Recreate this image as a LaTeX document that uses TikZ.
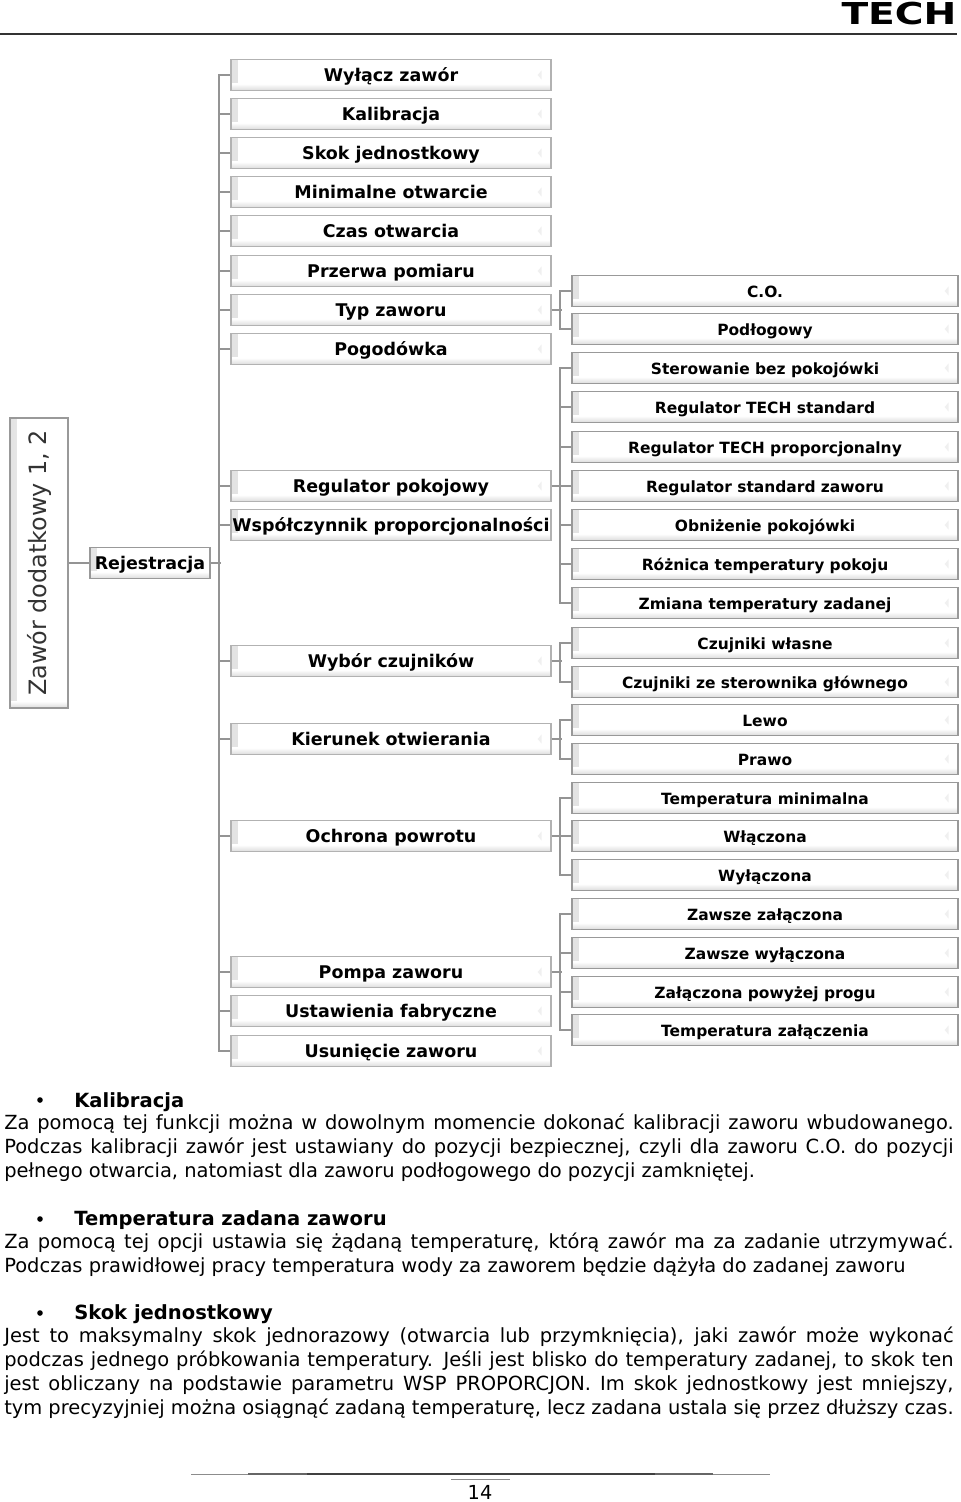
\documentclass[tikz,border=0pt]{standalone}
\usepackage{fontspec}
\setmainfont{DejaVu Sans}
\usetikzlibrary{positioning,calc}

\newcommand{\bevelshade}{%
    \shade[left color=black!11, right color=white]
        (path picture bounding box.south west) rectangle ([xshift=5pt]path picture bounding box.north west);
    \shade[top color=white, bottom color=black!14]
        ([yshift=5pt]path picture bounding box.south west) rectangle (path picture bounding box.south east);
}
\newcommand{\bevelmark}{%
    \fill[black!6] ([xshift=-7pt,yshift=-3.5pt]path picture bounding box.east) -- ++(0,7pt) -- ++(-3pt,-3.5pt) -- cycle;
}

\begin{document}
\begin{tikzpicture}[
    x=0.75pt, y=-0.75pt,
    line/.style={draw=black!42, line width=1.8pt},
    bevel/.style={
        draw=black!40, line width=1.1pt, fill=white,
        align=center, inner sep=0pt,
        path picture={\bevelshade}
    },
    lbox/.style={
        bevel, draw=black!30,
        path picture={\bevelshade\bevelmark},
        minimum width=240pt, minimum height=23.25pt,
        text height=12pt, text depth=2pt,
        font=\fontsize{13.1}{15}\selectfont\bfseries
    },
    rbox/.style={
        bevel,
        path picture={\bevelshade\bevelmark},
        minimum width=289.5pt, minimum height=23.25pt,
        text height=11.5pt, text depth=2pt,
        font=\fontsize{11.6}{15}\selectfont\bfseries
    },
    body/.style={
        anchor=north west, inner sep=0pt, text width=712pt, align=justify,
        font=\fontsize{14.6}{18}\selectfont
    },
    head/.style={
        anchor=west, inner sep=0pt,
        font=\fontsize{14.65}{18}\selectfont\bfseries
    },
    dot/.style={circle, fill=black, inner sep=0pt, minimum size=4.2pt}
]
\useasboundingbox (0,0) rectangle (960,1502);

% Header
\node[anchor=center, inner sep=0pt, font=\fontsize{26}{26}\selectfont\bfseries, xscale=1.13, yscale=0.87] (logo) at (899,14) {TECH};
\coordinate (hl) at (0,34);
\coordinate (hr) at (957,34);
\draw[black!80, line width=1.2pt] (hl) -- (hr);

% Root and registration
\node[bevel, minimum width=43.5pt, minimum height=217.5pt] (root) at (39,563) {};
\node[rotate=90, inner sep=0pt, text=black!80, font=\fontsize{17.9}{20}\selectfont] (rootlabel) at (root.center) {Zawór dodatkowy 1, 2};
\node[bevel, minimum width=90pt, minimum height=23.25pt, text height=12pt, text depth=2pt, font=\fontsize{13.1}{15}\selectfont\bfseries] (rej) at (150,563) {Rejestracja};

% Left column
\node[lbox] (wylacz) at (391,75) {Wyłącz zawór};
\node[lbox] (kalib) at (391,114) {Kalibracja};
\node[lbox] (skok) at (391,153) {Skok jednostkowy};
\node[lbox] (minotw) at (391,192) {Minimalne otwarcie};
\node[lbox] (czas) at (391,231) {Czas otwarcia};
\node[lbox] (przerwa) at (391,271) {Przerwa pomiaru};
\node[lbox] (typ) at (391,310) {Typ zaworu};
\node[lbox] (pogod) at (391,349) {Pogodówka};
\node[lbox] (regpok) at (391,486) {Regulator pokojowy};
\node[lbox] (wsp) at (391,525) {Współczynnik proporcjonalności};
\node[lbox] (wybor) at (391,661) {Wybór czujników};
\node[lbox] (kier) at (391,739) {Kierunek otwierania};
\node[lbox] (ochr) at (391,836) {Ochrona powrotu};
\node[lbox] (pompa) at (391,972) {Pompa zaworu};
\node[lbox] (ustaw) at (391,1011) {Ustawienia fabryczne};
\node[lbox] (usun) at (391,1051) {Usunięcie zaworu};

% Right column
\node[rbox] (co) at (765,291) {C.O.};
\node[rbox] (podl) at (765,329) {Podłogowy};
\node[rbox] (bezpok) at (765,368) {Sterowanie bez pokojówki};
\node[rbox] (rstd) at (765,407) {Regulator TECH standard};
\node[rbox] (rprop) at (765,447) {Regulator TECH proporcjonalny};
\node[rbox] (rzaw) at (765,486) {Regulator standard zaworu};
\node[rbox] (obniz) at (765,525) {Obniżenie pokojówki};
\node[rbox] (rozn) at (765,564) {Różnica temperatury pokoju};
\node[rbox] (zmiana) at (765,603) {Zmiana temperatury zadanej};
\node[rbox] (wlasne) at (765,643) {Czujniki własne};
\node[rbox] (zester) at (765,682) {Czujniki ze sterownika głównego};
\node[rbox] (lewo) at (765,720) {Lewo};
\node[rbox] (prawo) at (765,759) {Prawo};
\node[rbox] (tmin) at (765,798) {Temperatura minimalna};
\node[rbox] (wlacz) at (765,836) {Włączona};
\node[rbox] (wylaczona) at (765,875) {Wyłączona};
\node[rbox] (zawzal) at (765,914) {Zawsze załączona};
\node[rbox] (zawwyl) at (765,953) {Zawsze wyłączona};
\node[rbox] (powyzej) at (765,992) {Załączona powyżej progu};
\node[rbox] (tzal) at (765,1030) {Temperatura załączenia};

% Tree connectors
\draw[line] (root.east) -- (rej.west);
\draw[line] (wylacz.west) -- ++(-11,0) |- (usun.west);
\draw[line] (rej.east) -- ++(10,0);
\foreach \n in {kalib,skok,minotw,czas,przerwa,typ,pogod,regpok,wsp,wybor,kier,ochr,pompa,ustaw}
    \draw[line] (\n.west) -- ++(-11,0);

\draw[line] (typ.east) -- ++(10.5,0);
\draw[line] (co.west) -- ++(-11,0) |- (podl.west);

\draw[line] (regpok.east) -- ++(10.5,0);
\draw[line] (bezpok.west) -- ++(-11,0) |- (zmiana.west);
\foreach \n in {rstd,rprop,rzaw,obniz,rozn}
    \draw[line] (\n.west) -- ++(-11,0);

\draw[line] (wybor.east) -- ++(10.5,0);
\draw[line] (wlasne.west) -- ++(-11,0) |- (zester.west);

\draw[line] (kier.east) -- ++(10.5,0);
\draw[line] (lewo.west) -- ++(-11,0) |- (prawo.west);

\draw[line] (ochr.east) -- ++(10.5,0);
\draw[line] (tmin.west) -- ++(-11,0) |- (wylaczona.west);
\draw[line] (wlacz.west) -- ++(-11,0);

\draw[line] (pompa.east) -- ++(10.5,0);
\draw[line] (zawzal.west) -- ++(-11,0) |- (tzal.west);
\draw[line] (zawwyl.west) -- ++(-11,0);
\draw[line] (powyzej.west) -- ++(-11,0);

% Kalibracja
\node[dot] (d1) at (40,1100) {};
\node[head] (h1) at (74,1102) {Kalibracja};
\node[body] (p1) at (4,1114) {Za pomocą tej funkcji można w dowolnym momencie dokonać kalibracji zaworu wbudowanego.\linebreak
Podczas kalibracji zawór jest ustawiany do pozycji bezpiecznej, czyli dla zaworu C.O. do pozycji\linebreak
pełnego otwarcia, natomiast dla zaworu podłogowego do pozycji zamkniętej.};

% Temperatura zadana
\node[dot] (d2) at (40,1219) {};
\node[head] (h2) at (74,1220) {Temperatura zadana zaworu};
\node[body] (p2) at (4,1233) {Za pomocą tej opcji ustawia się żądaną temperaturę, którą zawór ma za zadanie utrzymywać.\linebreak
Podczas prawidłowej pracy temperatura wody za zaworem będzie dążyła do zadanej zaworu};

% Skok jednostkowy
\node[dot] (d3) at (40,1313) {};
\node[head] (h3) at (74,1314) {Skok jednostkowy};
\node[body] (p3) at (4,1327) {Jest to maksymalny skok jednorazowy (otwarcia lub przymknięcia), jaki zawór może wykonać\linebreak
podczas jednego próbkowania temperatury. Jeśli jest blisko do temperatury zadanej, to skok ten\linebreak
jest obliczany na podstawie parametru WSP PROPORCJON. Im skok jednostkowy jest mniejszy,\linebreak
tym precyzyjniej można osiągnąć zadaną temperaturę, lecz zadana ustala się przez dłuższy czas.};

% Footer
\coordinate (fa) at (191,1474);
\coordinate (fb) at (770,1474);
\coordinate (fc) at (248,1474);
\coordinate (fd) at (713,1474);
\coordinate (fe) at (307,1474);
\coordinate (ff) at (655,1474);
\draw[black!45, line width=0.7pt] (fa) -- (fb);
\draw[black!60, line width=0.8pt] (fc) -- (fd);
\draw[black!75, line width=1pt] (fe) -- (ff);
\coordinate (pa) at (451,1479);
\coordinate (pb) at (510,1479);
\draw[black!45, line width=0.7pt] (pa) -- (pb);
\node[inner sep=0pt, font=\fontsize{14.5}{16}\selectfont] (page) at (480,1492) {14};

\end{tikzpicture}
\end{document}
